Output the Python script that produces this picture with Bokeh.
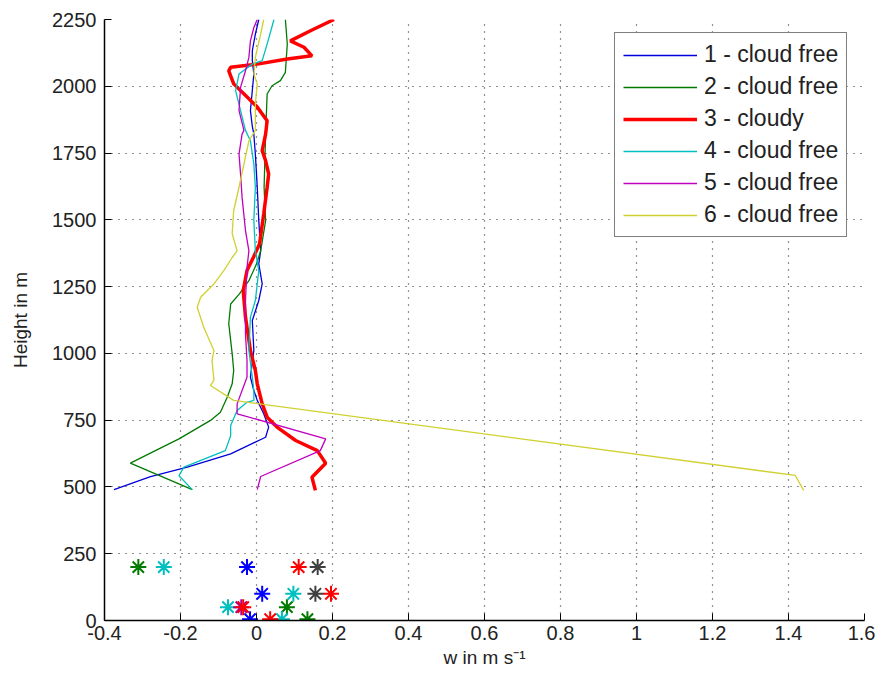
from bokeh.plotting import figure
from bokeh.models import (Range1d, FixedTicker, CustomJSTickFormatter, Legend, LegendItem)
from bokeh.embed import file_html
from bokeh.resources import INLINE

# ---------------- data ----------------
# Profile 1 - cloud free
s1_w = [-0.375, -0.279, -0.182, -0.068, 0.024, 0.032, 0.019, 0.002, -0.007, -0.016, -0.007,
        -0.011, 0.006, 0.015, 0.006, 0.011, 0.006, 0.002, -0.003, -0.007, -0.011, -0.016,
        -0.011, -0.007, -0.011, -0.011, -0.003, 0.006]
s1_h = [490, 539, 574, 624, 686, 724, 774, 824, 861, 911, 1011,
        1123, 1198, 1260, 1335, 1384, 1497, 1622, 1746, 1821, 1850, 1909,
        1984, 2046, 2096, 2133, 2195, 2250]
# Profile 2 - cloud free
s2_w = [-0.169, -0.332, -0.204, -0.121, -0.095, -0.077, -0.064, -0.060, -0.064, -0.073,
        -0.068, -0.045, -0.020, 0.000, 0.011, 0.024, 0.020, 0.022, 0.024, 0.028, 0.041,
        0.063, 0.076, 0.081, 0.076]
s2_h = [490, 589, 680, 749, 780, 836, 886, 936, 999, 1111,
        1185, 1223, 1272, 1335, 1384, 1497, 1622, 1721, 1821, 1971, 2002,
        2021, 2052, 2158, 2250]
# Profile 3 - cloudy
s3_w = [0.155, 0.146, 0.182, 0.160, 0.103, 0.054, 0.028, 0.015, 0.002, -0.003, -0.016,
        -0.029, -0.035, -0.025, -0.008, 0.008, 0.019, 0.028, 0.032, 0.024, 0.015,
        0.024, 0.028, 0.002, -0.020, -0.060, -0.073, -0.068, 0.002, 0.081, 0.146, 0.125,
        0.089, 0.142, 0.204]
s3_h = [487, 536, 589, 636, 674, 724, 761, 811, 886, 936, 1011,
        1136, 1235, 1310, 1360, 1410, 1522, 1622, 1672, 1721, 1759,
        1821, 1871, 1922, 1953, 2009, 2058, 2071, 2083, 2102, 2114, 2146,
        2170, 2208, 2250]
# Profile 4 - cloud free
s4_w = [-0.169, -0.204, -0.191, -0.082, -0.068, -0.068, -0.051, -0.025, -0.007, -0.007,
        -0.011, -0.020, -0.016, -0.003, 0.006, -0.003, -0.007, -0.003, -0.007, -0.016,
        -0.029, -0.055, -0.046, -0.011, 0.015, 0.028, 0.046]
s4_h = [490, 542, 574, 636, 692, 730, 786, 817, 824, 861,
        911, 1011, 1136, 1198, 1310, 1384, 1497, 1622, 1709, 1796,
        1835, 1984, 2046, 2083, 2096, 2158, 2250]
# Profile 5 - cloud free
s5_w = [0.002, 0.011, 0.168, 0.182, -0.051, -0.051, -0.025, -0.025, -0.029, -0.029,
        -0.025, -0.020, -0.029, -0.038, -0.042, -0.046, -0.038, -0.033, -0.046, -0.042,
        -0.029, -0.020, -0.016, -0.007, 0.002]
s5_h = [490, 539, 636, 680, 774, 811, 911, 974, 1073, 1198,
        1322, 1384, 1460, 1585, 1672, 1746, 1821, 1835, 1909, 1996,
        2058, 2108, 2170, 2220, 2250]
# Profile 6 - cloud free
s6_w = [1.440, 1.418, -0.060, -0.121, -0.112, -0.117, -0.112, -0.139, -0.156, -0.147,
        -0.112, -0.086, -0.064, -0.051, -0.064, -0.060, -0.046, -0.033, -0.020, -0.003,
        -0.003, 0.002, -0.007, -0.003, 0.011, 0.019]
s6_h = [487, 543, 824, 880, 899, 974, 1011, 1098, 1173, 1210,
        1260, 1310, 1359, 1384, 1448, 1535, 1622, 1709, 1796, 1835,
        1934, 2009, 2046, 2108, 2195, 2250]

legend_labels = ["1 - cloud free", "2 - cloud free", "3 - cloudy",
                 "4 - cloud free", "5 - cloud free", "6 - cloud free"]

# near-surface point measurements (asterisks), grouped by colour
pt_blue_w = [-0.025, 0.015, -0.017]
pt_blue_h = [200, 100, 5]
pt_green_w = [-0.311, 0.080, 0.134]
pt_green_h = [200, 50, 5]
pt_red_w = [0.111, 0.196, -0.035, 0.036]
pt_red_h = [200, 100, 50, 5]
pt_cyan_w = [-0.244, 0.097, -0.075, 0.067]
pt_cyan_h = [200, 100, 50, 5]
pt_gray_w = [0.161, 0.155]
pt_gray_h = [200, 100]
pt_magenta_w = [-0.040]
pt_magenta_h = [50]

x_ticks = [-0.4, -0.2, 0, 0.2, 0.4, 0.6, 0.8, 1.0, 1.2, 1.4, 1.6]
y_ticks = [0, 250, 500, 750, 1000, 1250, 1500, 1750, 2000, 2250]

# ---------------- figure ----------------
FONT = "Liberation Sans"
p = figure(width=875, height=680, output_backend="svg", toolbar_location=None,
           x_range=Range1d(-0.4, 1.6), y_range=Range1d(0, 2250),
           min_border_left=104, min_border_right=11, min_border_top=19, min_border_bottom=60)
p.outline_line_color = None
p.background_fill_color = "white"
p.border_fill_color = "white"

for ax, ticks in ((p.xaxis[0], x_ticks), (p.yaxis[0], y_ticks)):
    ax.ticker = FixedTicker(ticks=ticks)
    ax.major_tick_in = 7
    ax.major_tick_out = 0
    ax.minor_tick_line_color = None
    ax.axis_line_width = 1.5
    ax.axis_line_color = "black"
    ax.major_tick_line_color = "black"
    ax.major_label_text_font = FONT
    ax.major_label_text_font_size = "20px"
    ax.major_label_text_color = "#222222"
    ax.axis_label_text_font = FONT
    ax.axis_label_text_font_size = "19px"
    ax.axis_label_text_font_style = "normal"
    ax.axis_label_text_color = "#222222"

p.xaxis[0].formatter = CustomJSTickFormatter(code="""
    var s = tick.toFixed(1);
    if (s.endsWith('.0')) s = s.slice(0, -2);
    if (s == '-0') s = '0';
    return s;
""")
p.xaxis[0].major_label_standoff = 5
p.xaxis[0].axis_label = "w in m s\u207b\u00b9"
p.xaxis[0].axis_label_standoff = 4
p.yaxis[0].major_label_standoff = 8
p.yaxis[0].axis_label = "Height in m"
p.yaxis[0].axis_label_standoff = 18

for g in (p.xgrid[0], p.ygrid[0]):
    g.grid_line_color = "black"
    g.grid_line_alpha = 0.85
    g.grid_line_dash = "1 6"
    g.grid_line_width = 1.2
p.xgrid[0].ticker = FixedTicker(ticks=x_ticks)
p.ygrid[0].ticker = FixedTicker(ticks=y_ticks)

colors = ["#0000d8", "#007a00", "#ff0000", "#00bfbf", "#bf00bf", "#d0d030"]
widths = [1.3, 1.3, 3.5, 1.3, 1.3, 1.3]
series = [(s1_w, s1_h), (s2_w, s2_h), (s3_w, s3_h), (s4_w, s4_h), (s5_w, s5_h), (s6_w, s6_h)]

renderers = []
for (w, h), c, lw in zip(series, colors, widths):
    r = p.line(w, h, line_color=c, line_width=lw)
    renderers.append(r)

pt_groups = [
    (pt_green_w, pt_green_h, "#007a00"),
    (pt_cyan_w, pt_cyan_h, "#00bfbf"),
    (pt_magenta_w, pt_magenta_h, "#a000a0"),
    (pt_blue_w, pt_blue_h, "#0000ff"),
    (pt_red_w, pt_red_h, "#ff0000"),
    (pt_gray_w, pt_gray_h, "#404040"),
]
for w, h, c in pt_groups:
    p.scatter(w, h, marker="asterisk", size=16, line_color=c, line_width=2)

legend = Legend(items=[LegendItem(label=lab, renderers=[r]) for lab, r in zip(legend_labels, renderers)],
                location=(510, 383), margin=0, padding=8, spacing=5,
                glyph_width=74, glyph_height=20, label_height=20, label_standoff=7,
                label_text_font=FONT, label_text_font_size="23px", label_text_color="#222222",
                border_line_color="black", border_line_width=1.2,
                background_fill_color="white", background_fill_alpha=1.0)
p.add_layout(legend, "center")

open("out.html", "w").write(file_html(p, INLINE))
